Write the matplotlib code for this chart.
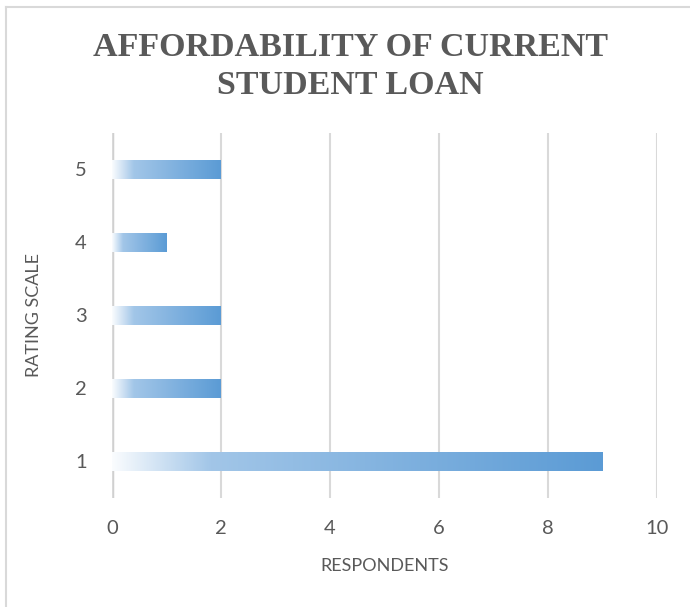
import matplotlib
matplotlib.use('Agg')
import matplotlib.pyplot as plt
import numpy as np
from matplotlib.colors import LinearSegmentedColormap
from matplotlib.lines import Line2D

# data
ratings = [1, 2, 3, 4, 5]
respondents = [9, 2, 2, 1, 2]
x_ticks = [0, 2, 4, 6, 8, 10]

title = 'AFFORDABILITY OF CURRENT\nSTUDENT LOAN'
x_label = 'RESPONDENTS'
y_label = 'RATING SCALE'

grey = '#595959'
grid_col = '#D9D9D9'

# white -> blue gradient, like the excel fill
cmap = LinearSegmentedColormap.from_list(
    'fill', [(0.0, '#FAFCFE'), (0.2, '#A2C6E8'), (1.0, '#5B9BD5')])

plt.rcParams['font.family'] = ['Lato', 'DejaVu Sans']

fig = plt.figure(figsize=(6.9, 6.07), dpi=100)
ax = fig.add_axes([0.1623, 0.1796, 0.952 - 0.1623, 0.781 - 0.1796])

bar_h = 0.25
grad = np.linspace(0, 1, 256).reshape(1, -1)
for r, v in zip(ratings, respondents):
    ax.imshow(grad, cmap=cmap, aspect='auto', interpolation='bilinear',
              extent=(0, v, r - bar_h / 2, r + bar_h / 2), zorder=3)

ax.set_xlim(0, 10)
ax.set_ylim(0.5, 5.5)
ax.set_xticks(x_ticks)
ax.set_yticks(ratings)
ax.set_xticklabels([str(t) for t in x_ticks])
ax.set_yticklabels([str(r) for r in ratings])

ax.grid(axis='x', color=grid_col, linewidth=1.5, zorder=0)
ax.axvline(0, color='#D0D0D0', linewidth=2.5, zorder=1)
for s in ax.spines.values():
    s.set_visible(False)
ax.tick_params(length=0, labelsize=14.5, labelcolor=grey)
ax.tick_params(axis='x', pad=16)
ax.tick_params(axis='y', pad=18)

ax.set_xlabel(x_label, fontsize=13, color=grey, labelpad=15)
ax.set_ylabel(y_label, fontsize=13, color=grey, labelpad=24)

fig.text(0.508, 0.891, title, ha='center', va='center', fontsize=24.5,
         fontweight='bold', color=grey, family='Liberation Serif',
         linespacing=1.3)

# chart frame (left and top edges show in the crop)
fig.add_artist(Line2D([0.009, 0.009], [0, 0.988], transform=fig.transFigure,
                      color=grid_col, linewidth=1.5))
fig.add_artist(Line2D([0.009, 1], [0.988, 0.988], transform=fig.transFigure,
                      color=grid_col, linewidth=1.5))

fig.savefig('out.png', dpi=100)
